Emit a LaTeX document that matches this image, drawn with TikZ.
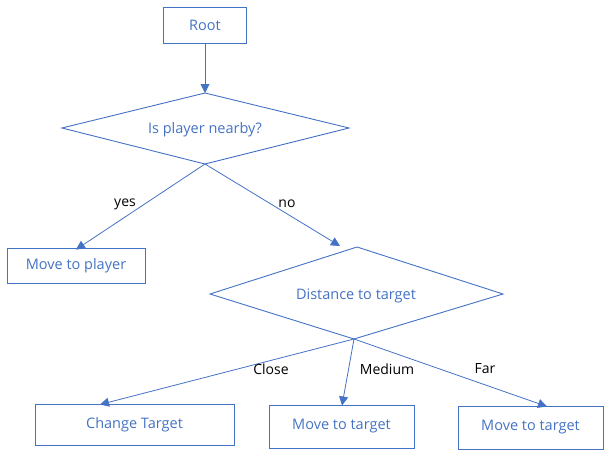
\documentclass[tikz,border=0pt]{standalone}
\usepackage{fontspec}
\setmainfont{Open Sans}
\usetikzlibrary{arrows.meta}
\definecolor{blu}{HTML}{4472C4}
\begin{document}
\begin{tikzpicture}[x=1pt,y=-1pt,
  box/.style={draw=blu,line width=0.9pt,text=blu,inner sep=0pt,font=\fontsize{14.5}{16}\selectfont},
  dtext/.style={text=blu,font=\fontsize{14.5}{16}\selectfont},
  lab/.style={text=black,font=\fontsize{14}{16}\selectfont},
  conn/.style={draw=blu,line width=0.8pt,-{Triangle[length=9pt,width=9pt]}},
  dia/.style={draw=blu,line width=0.9pt}]
\useasboundingbox (0,0) rectangle (607,458);
% boxes
\node[box,minimum width=83pt,minimum height=36pt] (root) at (205,25.5) {Root};
\node[box,minimum width=138pt,minimum height=35pt] (mp) at (76,265.5) {Move to player};
\node[box,minimum width=199pt,minimum height=41pt] (ct) at (134.5,424.5) {Change Target};
\node[box,minimum width=145pt,minimum height=43pt] (mt1) at (341.5,426.5) {Move to target};
\node[box,minimum width=145pt,minimum height=43pt] (mt2) at (530.5,427.5) {Move to target};
% diamond 1
\coordinate (d1t) at (205,93);
\coordinate (d1r) at (349,128);
\coordinate (d1b) at (205,164);
\coordinate (d1l) at (62,128);
\draw[dia] (d1t) -- (d1r) -- (d1b) -- (d1l) -- cycle;
\node[dtext] (d1) at (205,130) {Is player nearby?};
% diamond 2
\coordinate (d2t) at (357,247);
\coordinate (d2r) at (503,294);
\coordinate (d2b) at (354,339);
\coordinate (d2l) at (210,294);
\draw[dia] (d2t) -- (d2r) -- (d2b) -- (d2l) -- cycle;
\node[dtext] (d2) at (356,296) {Distance to target};
% arrow ends
\coordinate (noend) at (340,246);
\coordinate (ctend) at (100,404.5);
\coordinate (mt1end) at (342,405.5);
\coordinate (mt2end) at (547,406.5);
% connectors
\draw[conn] (root.south) -- (d1t);
\draw[conn] (d1b) -- ([yshift=-2pt]mp.north);
\draw[conn] (d1b) -- (noend);
\draw[conn] (d2b) -- (ctend);
\draw[conn] (d2b) -- (mt1end);
\draw[conn] (d2b) -- (mt2end);
% labels
\node[lab] (lyes) at (125,204) {yes};
\node[lab] (lno) at (287,204) {no};
\node[lab] (lclose) at (271,369) {Close};
\node[lab] (lmed) at (387,369) {Medium};
\node[lab] (lfar) at (485,369) {Far};
\end{tikzpicture}
\end{document}
